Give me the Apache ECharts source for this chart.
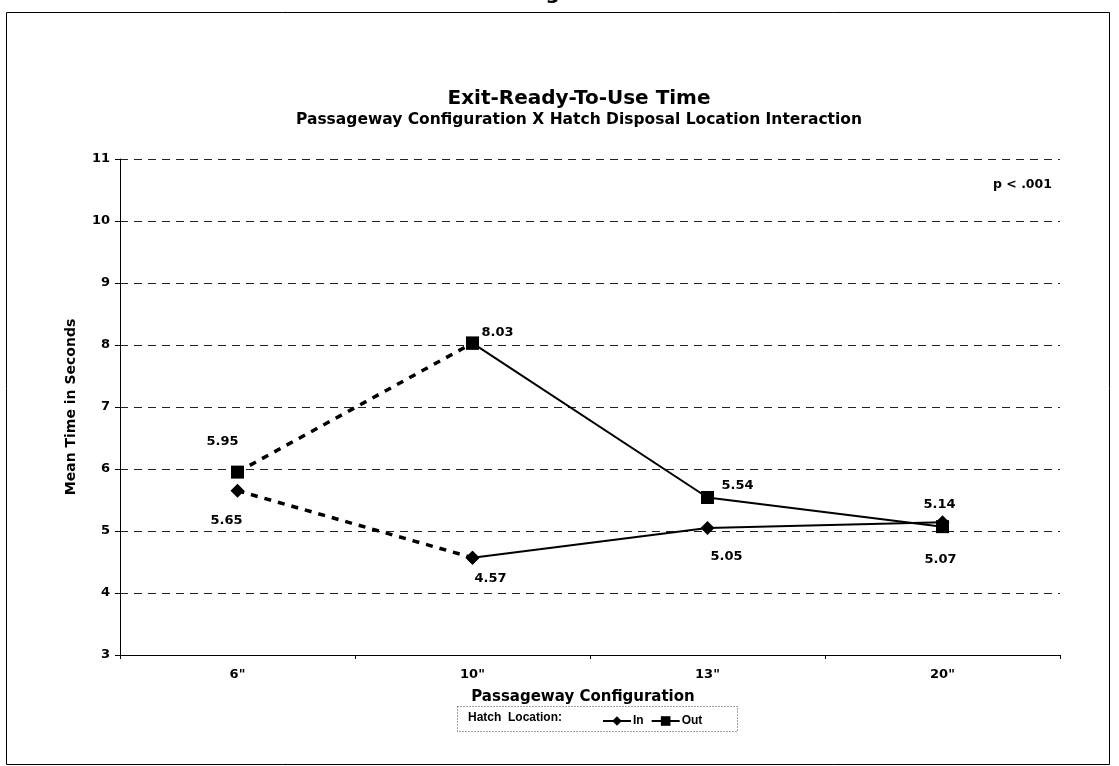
<!DOCTYPE html>
<html>
<head>
<meta charset="utf-8">
<script src="https://cdn.jsdelivr.net/npm/echarts@6/dist/echarts.min.js"></script>
<style>
  html, body { margin: 0; padding: 0; background: #fff; }
  #chart { width: 1119px; height: 766px; }
</style>
</head>
<body>
<div id="chart"></div>
<script>
var categories = ['6"', '10"', '13"', '20"'];
var inValues = [5.65, 4.57, 5.05, 5.14];
var outValues = [5.95, 8.03, 5.54, 5.07];
// label offsets per point (pixels from the marker centre)
var inOffsets = [[-11, 30], [18, 21], [19, 29], [-3, -18]];
var outOffsets = [[-15, -30], [25, -11], [30, -12], [-2, 33]];

var font = '"DejaVu Sans", Verdana, sans-serif';
var arial = '"Liberation Sans", Arial, sans-serif';

function item(v, off) {
  return {
    value: v,
    label: {
      show: true, position: 'inside', offset: off,
      formatter: function(p) { return p.value.toFixed(2); },
      color: '#000', fontWeight: 'bold', fontSize: 13, fontFamily: font
    }
  };
}

// first segment (6" -> 10") dashed, rest solid
function dashedPart(vals, offs) {
  return [item(vals[0], offs[0]), vals[1], '-', '-'];
}
function solidPart(vals, offs) {
  return ['-', item(vals[1], offs[1]), item(vals[2], offs[2]), item(vals[3], offs[3])];
}

var chart = echarts.init(document.getElementById('chart'), null, { renderer: 'canvas' });

chart.setOption({
  backgroundColor: '#fff',
  animation: false,
  title: {
    text: 'Exit-Ready-To-Use Time',
    subtext: 'Passageway Configuration X Hatch Disposal Location Interaction',
    left: 574, top: 84, textAlign: 'center', itemGap: 3,
    textStyle: { color: '#000', fontSize: 20, fontWeight: 'bold', fontFamily: font },
    subtextStyle: { color: '#000', fontSize: 15.5, fontWeight: 'bold', fontFamily: font }
  },
  legend: {
    data: ['In', 'Out'],
    left: 597, top: 710,
    itemWidth: 28, itemHeight: 12, itemGap: 7,
    textStyle: { color: '#000', fontSize: 12, fontWeight: 'bold', fontFamily: arial, padding: [3, 0, 0, -3] }
  },
  grid: { left: 120, right: 59, top: 159, bottom: 111 },
  xAxis: {
    type: 'category',
    data: categories,
    boundaryGap: true,
    name: 'Passageway Configuration',
    nameLocation: 'middle',
    nameGap: 35,
    nameTextStyle: { color: '#000', fontSize: 15, fontWeight: 'bold', fontFamily: font, padding: [0, 14, 0, 0] },
    axisLine: { lineStyle: { color: '#000', width: 1 } },
    axisTick: { show: true, length: 4, lineStyle: { color: '#000' } },
    axisLabel: { color: '#000', fontSize: 13, fontWeight: 'bold', fontFamily: font, margin: 13 },
    splitLine: { show: false }
  },
  yAxis: {
    type: 'value',
    min: 3, max: 11, interval: 1,
    name: 'Mean Time in Seconds',
    nameLocation: 'middle',
    nameGap: 42,
    nameTextStyle: { color: '#000', fontSize: 14, fontWeight: 'bold', fontFamily: font },
    axisLine: { show: true, lineStyle: { color: '#000', width: 1 } },
    axisTick: { show: true, length: 5, lineStyle: { color: '#000' } },
    axisLabel: { color: '#000', fontSize: 13, fontWeight: 'bold', fontFamily: font, margin: 10 },
    splitLine: { show: true, lineStyle: { color: '#222', width: 1, type: [8, 6] } }
  },
  series: [
    {
      name: 'In-dash', type: 'line', data: dashedPart(inValues, inOffsets),
      symbol: 'diamond', symbolSize: 14,
      itemStyle: { color: '#000' },
      lineStyle: { color: '#000', width: 3.5, type: [7, 7] }
    },
    {
      name: 'Out-dash', type: 'line', data: dashedPart(outValues, outOffsets),
      symbol: 'rect', symbolSize: 13,
      itemStyle: { color: '#000' },
      lineStyle: { color: '#000', width: 3.5, type: [7, 7] }
    },
    {
      name: 'In', type: 'line', data: solidPart(inValues, inOffsets),
      symbol: 'diamond', symbolSize: 14,
      itemStyle: { color: '#000' },
      lineStyle: { color: '#000', width: 2 }
    },
    {
      name: 'Out', type: 'line', data: solidPart(outValues, outOffsets),
      symbol: 'rect', symbolSize: 13,
      itemStyle: { color: '#000' },
      lineStyle: { color: '#000', width: 2 }
    }
  ],
  graphic: [
    {
      type: 'rect', silent: true, z: -1,
      shape: { x: 6.5, y: 12.5, width: 1103, height: 752 },
      style: { fill: 'none', stroke: '#000', lineWidth: 1 }
    },
    {
      type: 'text', left: 525, top: -16,
      style: { text: 'Figure', font: 'bold 20px ' + font, fill: '#000' }
    },
    {
      type: 'text', left: 993, top: 178,
      style: { text: 'p < .001', font: 'bold 12.5px ' + font, fill: '#000' }
    },
    {
      type: 'rect', silent: true,
      shape: { x: 457.5, y: 706.5, width: 280, height: 25 },
      style: { fill: 'none', stroke: '#444', lineWidth: 1, lineDash: [1, 2] }
    },
    {
      type: 'text', left: 468, top: 712,
      style: { text: 'Hatch  Location:', font: 'bold 12px ' + arial, fill: '#000' }
    }
  ]
});

window.addEventListener('resize', function() { chart.resize(); });
</script>
</body>
</html>
